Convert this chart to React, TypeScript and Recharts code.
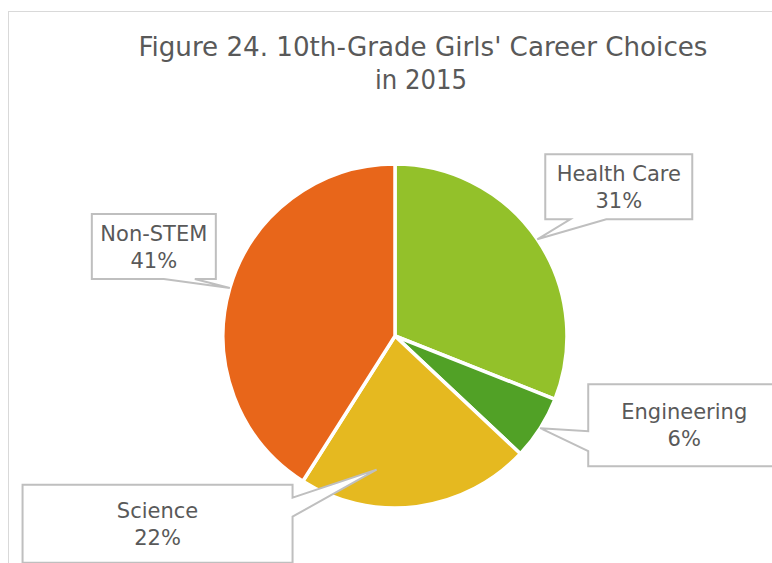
import React from 'react';
import { PieChart, Pie, Cell } from 'recharts';

const categories = ['Health Care', 'Engineering', 'Science', 'Non-STEM'];
const shares = [31, 6, 22, 41];
const sliceColors = ['#93C12A', '#51A126', '#E5B920', '#E8661A'];
const titleLines = ["Figure 24. 10th-Grade Girls' Career Choices", 'in 2015'];

// callout box layout, relative to the tip point on the slice edge
const callouts = [
  { tipDx: 0, tipDy: 0, bx: 8, by: -85, w: 147, h: 65, side: 'bottom', b1: 25, b2: 61 },
  { tipDx: 0, tipDy: 0, bx: 48, by: -44, w: 192, h: 82, side: 'left', b1: 47, b2: 67 },
  { tipDx: -40, tipDy: -37, bx: -354, by: 15, w: 270, h: 78, side: 'right', b1: 13, b2: 32 },
  { tipDx: 0, tipDy: 0, bx: -138, by: -74, w: 124, h: 65, side: 'bottom', b1: 72, b2: 103 },
];

const data = categories.map((name, i) => ({ name, value: shares[i] }));
const RAD = Math.PI / 180;

const calloutPath = (x: number, y: number, w: number, h: number, side: string, b1: number, b2: number, tx: number, ty: number) => {
  if (side === 'bottom')
    return `M${x},${y} H${x + w} V${y + h} H${x + b2} L${tx},${ty} L${x + b1},${y + h} H${x} Z`;
  if (side === 'left')
    return `M${x},${y} H${x + w} V${y + h} H${x} V${y + b2} L${tx},${ty} L${x},${y + b1} Z`;
  return `M${x},${y} H${x + w} V${y + b1} L${tx},${ty} L${x + w},${y + b2} V${y + h} H${x} Z`;
};

const CalloutLabel = (props: any) => {
  const { cx, cy, midAngle, outerRadius, index, name, value } = props;
  const c = callouts[index];
  const tx = cx + Math.cos(-midAngle * RAD) * outerRadius + c.tipDx;
  const ty = cy + Math.sin(-midAngle * RAD) * outerRadius + c.tipDy;
  const x = tx + c.bx;
  const y = ty + c.by;
  const mx = x + c.w / 2;
  const my = y + c.h / 2;
  return (
    <g>
      <path d={calloutPath(x, y, c.w, c.h, c.side, c.b1, c.b2, tx, ty)} fill="#fff" stroke="#BFBFBF" strokeWidth={2} />
      <text x={mx} y={my - 6} textAnchor="middle" fill="#595959" fontSize={21} fontFamily="'DejaVu Sans', sans-serif">
        {name}
      </text>
      <text x={mx} y={my + 21} textAnchor="middle" fill="#595959" fontSize={21} fontFamily="'DejaVu Sans', sans-serif">
        {value}%
      </text>
    </g>
  );
};

export default function App() {
  return (
    <div style={{ position: 'absolute', left: 0, top: 0, width: 772, height: 563, background: '#fff', overflow: 'hidden' }}>
      <div style={{ position: 'absolute', left: 8, top: 11, width: 800, height: 600, borderTop: '1px solid #D9D9D9', borderLeft: '1px solid #D9D9D9' }} />
      <svg style={{ position: 'absolute', left: 0, top: 0 }} width={772} height={100}>
        <text x={423} y={56} textAnchor="middle" fill="#595959" fontSize={27} fontFamily="'Liberation Sans Narrow', 'DejaVu Sans Condensed', sans-serif" textLength={569} lengthAdjust="spacingAndGlyphs">
          {titleLines[0]}
        </text>
        <text x={421} y={89} textAnchor="middle" fill="#595959" fontSize={27} fontFamily="'Liberation Sans Narrow', 'DejaVu Sans Condensed', sans-serif" textLength={92} lengthAdjust="spacingAndGlyphs">
          {titleLines[1]}
        </text>
      </svg>
      <div style={{ position: 'absolute', left: 0, top: 0 }}>
        <PieChart width={772} height={563} margin={{ top: 0, right: 0, bottom: 0, left: 0 }}>
          <Pie
            data={data}
            dataKey="value"
            nameKey="name"
            cx={395}
            cy={336}
            outerRadius={172}
            startAngle={90}
            endAngle={-270}
            stroke="#fff"
            strokeWidth={3.5}
            label={CalloutLabel}
            labelLine={false}
            isAnimationActive={false}
          >
            {data.map((d, i) => (
              <Cell key={d.name} fill={sliceColors[i]} />
            ))}
          </Pie>
        </PieChart>
      </div>
    </div>
  );
}
